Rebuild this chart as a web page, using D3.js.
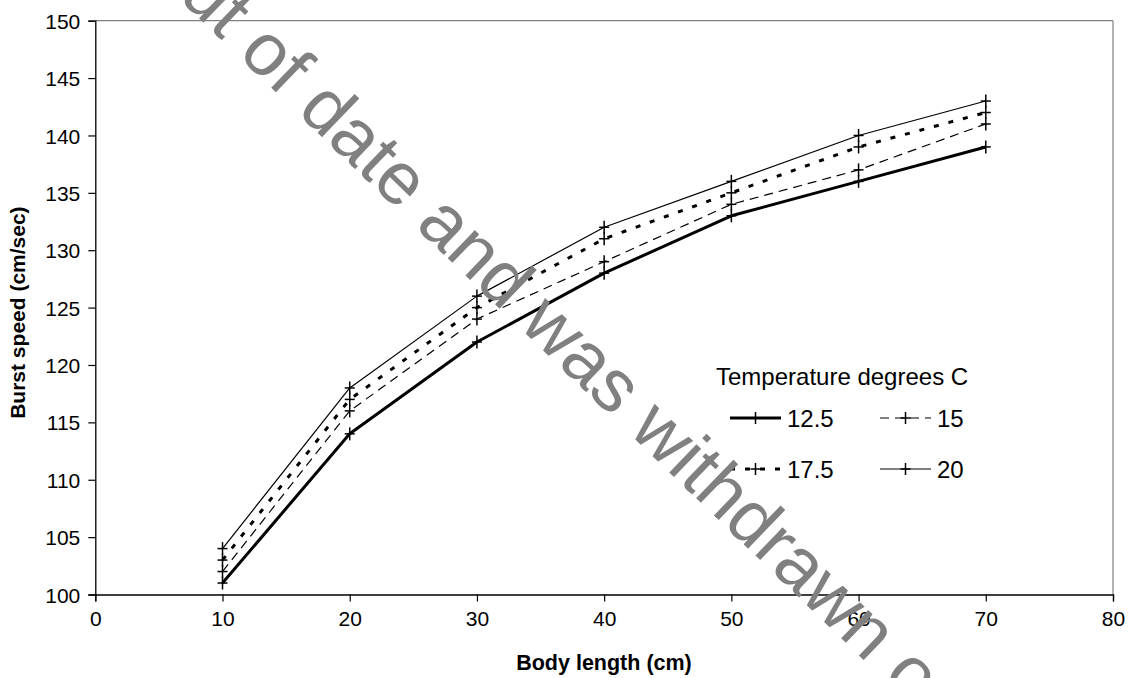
<!DOCTYPE html>
<html>
<head>
<meta charset="utf-8">
<script src="https://cdn.jsdelivr.net/npm/d3@7"></script>
<style>
  html, body { margin: 0; padding: 0; background: #fff; }
  svg { display: block; font-family: Arial, "Liberation Sans", sans-serif; }
</style>
</head>
<body>
<svg id="chart" width="1131" height="678"></svg>
<script>
// ---- data ----
const bodyLength = [10, 20, 30, 40, 50, 60, 70];
const temp125 = [101, 114, 122, 128, 133, 136, 139];
const temp15  = [102, 116, 124, 129, 134, 137, 141];
const temp175 = [103, 117, 125, 131, 135, 139, 142];
const temp20  = [104, 118, 126, 132, 136, 140, 143];
const seriesNames = ["12.5", "15", "17.5", "20"];
const xTicks = [0, 10, 20, 30, 40, 50, 60, 70, 80];
const yTicks = [100, 105, 110, 115, 120, 125, 130, 135, 140, 145, 150];
const legendTitle = "Temperature degrees C";
const xTitle = "Body length (cm)";
const yTitle = "Burst speed (cm/sec)";
const watermark = "out of date and was withdrawn on";

const styles = {
  "12.5": { width: 3, dash: null },
  "15":   { width: 1.2, dash: "9,6" },
  "17.5": { width: 3, dash: "5,10" },
  "20":   { width: 1.2, dash: null }
};

const series = [
  { name: seriesNames[0], values: temp125 },
  { name: seriesNames[1], values: temp15 },
  { name: seriesNames[2], values: temp175 },
  { name: seriesNames[3], values: temp20 }
];

const svg = d3.select("#chart");
const L = 95.3, R = 1113, T = 20.7, B = 594.5;

const x = d3.scaleLinear().domain([0, 80]).range([L, R]);
const y = d3.scaleLinear().domain([100, 150]).range([B, T]);

// plot border (gray top/right)
svg.append("line").attr("x1", L).attr("x2", R).attr("y1", T).attr("y2", T)
  .attr("stroke", "#808080").attr("stroke-width", 1.2);
svg.append("line").attr("x1", R).attr("x2", R).attr("y1", T).attr("y2", B)
  .attr("stroke", "#808080").attr("stroke-width", 1.2);

// axes
const xAxis = d3.axisBottom(x).tickValues(xTicks).tickSize(7).tickPadding(10).tickFormat(d3.format("d"));
const yAxis = d3.axisLeft(y).tickValues(yTicks).tickSize(7).tickPadding(8).tickFormat(d3.format("d"));

const gx = svg.append("g").attr("transform", `translate(0,${B})`).call(xAxis);
const gy = svg.append("g").attr("transform", `translate(${L},0)`).call(yAxis);
[gx, gy].forEach(g => {
  g.select(".domain").attr("stroke", "#000").attr("stroke-width", 1.3);
  g.selectAll(".tick line").attr("stroke", "#000").attr("stroke-width", 1.2);
  g.selectAll(".tick text").attr("fill", "#000")
    .style("font-size", "21px").style("font-family", "Arial, 'Liberation Sans', sans-serif");
});
gy.selectAll(".tick text").attr("dy", "0.36em");

// axis titles
svg.append("text").attr("x", 604).attr("y", 670).attr("text-anchor", "middle")
  .style("font-size", "21.5px").style("font-weight", "bold").text(xTitle);
svg.append("text").attr("transform", `translate(25,${(T + B) / 2 + 5}) rotate(-90)`)
  .attr("text-anchor", "middle").style("font-size", "21px").style("font-weight", "bold").text(yTitle);

// lines
const line = d3.line().x((d, i) => x(bodyLength[i])).y(d => y(d));
const gLines = svg.append("g");
series.forEach(s => {
  const st = styles[s.name];
  gLines.append("path").datum(s.values).attr("d", line)
    .attr("fill", "none").attr("stroke", "#000")
    .attr("stroke-width", st.width)
    .attr("stroke-dasharray", st.dash)
    .attr("stroke-linejoin", "round");
});
// markers
function plus(g, cx, cy, h, v) {
  g.append("line").attr("x1", cx - h).attr("x2", cx + h).attr("y1", cy).attr("y2", cy)
    .attr("stroke", "#000").attr("stroke-width", 1.5);
  g.append("line").attr("x1", cx).attr("x2", cx).attr("y1", cy - v).attr("y2", cy + v)
    .attr("stroke", "#000").attr("stroke-width", 1.5);
}
series.forEach(s => {
  s.values.forEach((v, i) => plus(gLines, x(bodyLength[i]), y(v), 5, 6.5));
});

// legend
const lg = svg.append("g");
lg.append("text").attr("x", 716).attr("y", 385).style("font-size", "24px").text(legendTitle);
const legPos = [
  { x0: 730, y0: 418 }, { x0: 880, y0: 418 },
  { x0: 730, y0: 469 }, { x0: 880, y0: 469 }
];
series.forEach((s, i) => {
  const p = legPos[i];
  const st = styles[s.name];
  lg.append("line").attr("x1", p.x0).attr("x2", p.x0 + 51).attr("y1", p.y0).attr("y2", p.y0)
    .attr("stroke", "#000").attr("stroke-width", st.width).attr("stroke-dasharray", st.dash);
  plus(lg, p.x0 + 25.5, p.y0, 5, 6);
  lg.append("text").attr("x", p.x0 + 57).attr("y", p.y0).attr("dy", "0.36em")
    .style("font-size", "24px").text(s.name);
});

// watermark (on top)
svg.append("text")
  .attr("transform", "translate(148,-31) rotate(44)")
  .style("font-size", "74px").attr("fill", "#808080")
  .text(watermark);
</script>
</body>
</html>
